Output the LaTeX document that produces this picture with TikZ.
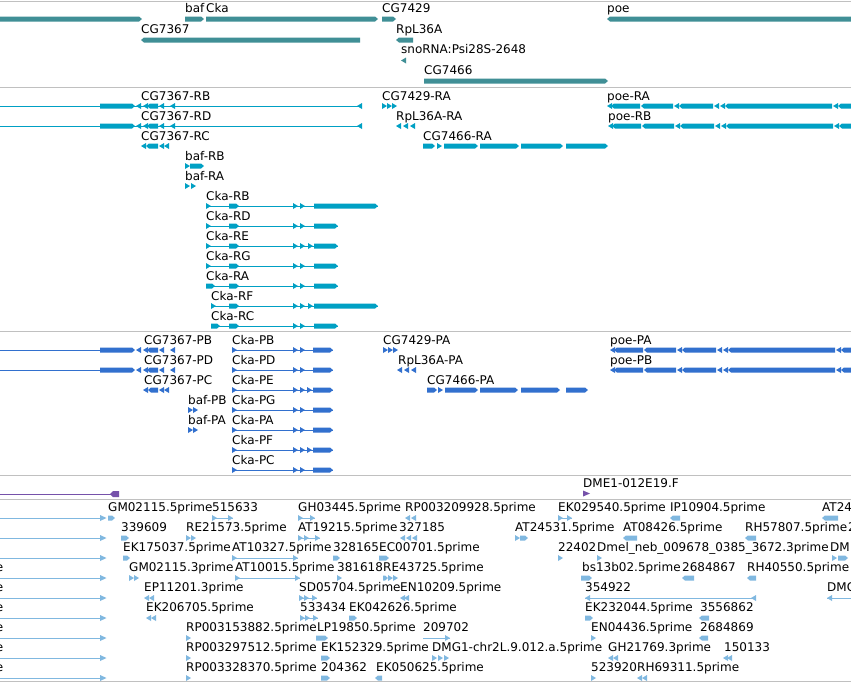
\documentclass[tikz,border=0pt]{standalone}
\usepackage{fontspec}
\setmainfont{DejaVu Sans}
\definecolor{genec}{RGB}{64,143,150}
\definecolor{txc}{RGB}{0,160,196}
\definecolor{prc}{RGB}{50,112,206}
\definecolor{puc}{RGB}{118,82,170}
\definecolor{estc}{RGB}{128,184,224}
\definecolor{sepc}{RGB}{192,192,192}
\newcounter{nodeidx}
\newcommand\xT[3]{\stepcounter{nodeidx}\node[lab] (n\arabic{nodeidx}) at (#1,#2) {#3};}
\newcommand\xRB[3]{\fill (#1,#3-2.5) -- (#2-3,#3-2.5) -- (#2,#3) -- (#2-3,#3+2.5) -- (#1,#3+2.5) -- cycle;}
\newcommand\xLB[3]{\fill (#1,#3) -- (#1+3,#3-2.5) -- (#2,#3-2.5) -- (#2,#3+2.5) -- (#1+3,#3+2.5) -- cycle;}
\newcommand\xRA[2]{\fill (#1,#2-3) -- (#1+5,#2) -- (#1,#2+3) -- cycle;}
\newcommand\xLA[2]{\fill (#1+5,#2-3) -- (#1,#2) -- (#1+5,#2+3) -- cycle;}
\newcommand\xLN[3]{\draw[line width=1pt] (#1,#3) -- (#2,#3);}
\newcommand\xpoe[2]{\xLA{#1}{#2}\xLB{#1+4}{#1+33}{#2}\xLB{#1+34}{#1+66}{#2}\xLA{#1+67}{#2}\xLB{#1+72}{#1+106}{#2}\xLA{#1+107}{#2}\xLA{#1+113}{#2}\xLB{#1+118}{#1+225}{#2}\xLA{#1+226}{#2}\xLB{#1+231}{#1+262}{#2}}
\newcommand\xcgL[2]{\xRB{100}{135}{#2}\xLA{136}{#2}\xLA{143}{#2}\xLB{147}{158}{#2}\xLA{159}{#2}\xLA{170}{#2}}
\tikzset{lab/.style={anchor=base west, inner sep=0pt, font=\fontsize{12}{14}\selectfont, text=black},
  sepline/.style={draw=sepc, line width=1pt}}
\begin{document}
\begin{tikzpicture}[x=1pt,y=-1pt]
\useasboundingbox (0,0) rectangle (851,683);
\fill[white] (0,0) rectangle (851,683);
\clip (0,0) rectangle (851,683);
% separators
\foreach \yy in {1,87.5,331.5,475.5,499.5,681.5} \draw[sepline] (0,\yy) -- (851,\yy);
% ---------- track 1: genes ----------
\begin{scope}[fill=genec,draw=genec]
\xRB{0}{142}{19} \xRB{185}{204}{19} \xRB{206}{378}{19} \xRB{382}{396}{19} \xLB{607}{860}{19}
\xLB{141}{360}{40} \xLB{396}{413}{40}
\xLA{401}{60.5}
\xRB{424}{608}{81}
\end{scope}
\xT{185}{12.5}{baf} \xT{206}{12.5}{Cka} \xT{382}{12.5}{CG7429} \xT{607}{12.5}{poe}
\xT{141}{33.5}{CG7367} \xT{396}{33.5}{RpL36A}
\xT{401}{53.5}{snoRNA:Psi28S-2648}
\xT{424}{74.5}{CG7466}
% ---------- track 2: transcripts ----------
\begin{scope}[fill=txc,draw=txc]
\xLN{0}{362}{106} \xcgL{0}{106} \xLA{357}{106}
\xRA{382}{106}\xRA{387}{106}\xRA{392}{106}
\xpoe{607}{106}
\xLN{0}{362}{126} \xcgL{0}{126} \xLA{357}{126}
\xLA{396}{126}\xLA{403}{126}\xLA{410}{126}
\xpoe{608}{126}
\xLA{141}{146}\xLB{146}{158}{146}\xLA{159}{146}\xLA{164}{146}
\xRB{423}{435}{146}\xRA{437}{146}\xRB{444}{478}{146}\xRB{480}{519}{146}\xRB{521}{563}{146}\xRB{566}{608}{146}
\xRA{185}{166}\xRB{190}{204}{166}
\xRA{185}{186}\xRA{191}{186}
% Cka transcripts
\xLN{206}{378}{206}\xRA{206}{206}\xRB{229}{239}{206}\xRA{293}{206}\xRA{300}{206}\xRB{314}{378}{206}
\xLN{206}{338}{226}\xRA{206}{226}\xRB{229}{239}{226}\xRA{293}{226}\xRA{300}{226}\xRB{314}{338}{226}
\xLN{206}{338}{246}\xRA{206}{246}\xRB{229}{239}{246}\xRA{293}{246}\xRA{300}{246}\xRA{308}{246}\xRB{314}{338}{246}
\xLN{206}{338}{266}\xRA{206}{266}\xRB{229}{239}{266}\xRA{293}{266}\xRA{300}{266}\xRB{314}{338}{266}
\xLN{206}{338}{286}\xRB{206}{215}{286}\xRB{229}{239}{286}\xRA{293}{286}\xRA{300}{286}\xRB{314}{338}{286}
\xLN{211}{378}{306}\xRA{211}{306}\xRB{229}{239}{306}\xRA{293}{306}\xRA{300}{306}\xRA{308}{306}\xRB{314}{378}{306}
\xLN{211}{338}{326}\xRB{211}{220}{326}\xRB{229}{239}{326}\xRA{293}{326}\xRA{300}{326}\xRB{314}{338}{326}
\end{scope}
\xT{141}{100}{CG7367-RB} \xT{382}{100}{CG7429-RA} \xT{607}{100}{poe-RA}
\xT{141}{120}{CG7367-RD} \xT{396}{120}{RpL36A-RA} \xT{608}{120}{poe-RB}
\xT{141}{140}{CG7367-RC} \xT{423}{140}{CG7466-RA}
\xT{185}{160}{baf-RB} \xT{185}{180}{baf-RA}
\xT{206}{200}{Cka-RB} \xT{206}{220}{Cka-RD} \xT{206}{240}{Cka-RE} \xT{206}{260}{Cka-RG}
\xT{206}{280}{Cka-RA} \xT{211}{300}{Cka-RF} \xT{211}{320}{Cka-RC}
% ---------- track 3: proteins ----------
\begin{scope}[fill=prc,draw=prc]
\xLN{0}{100}{350} \xcgL{0}{350}
\xLN{0}{100}{370} \xcgL{0}{370}
\xLA{143}{390}\xLB{148}{158}{390}\xLA{159}{390}\xLA{164}{390}
\xRA{383}{350}\xRA{388}{350}\xRA{393}{350}
\xLA{397}{370}\xLA{404}{370}\xLA{411}{370}
\xpoe{610}{350} \xpoe{610}{370}
\xRB{427}{437}{390}\xRA{438}{390}\xRB{445}{478}{390}\xRB{480}{518}{390}\xRB{521}{560}{390}\xRB{566}{588}{390}
\xRA{188}{410}\xRA{193}{410}
\xRA{188}{430}\xRA{193}{430}
\foreach \yy in {350,370,410,430,470}{\xLN{232}{333}{\yy}\xRA{232}{\yy}\xRA{293}{\yy}\xRA{300}{\yy}\xRB{313}{333}{\yy}}
\foreach \yy in {390,450}{\xLN{232}{333}{\yy}\xRA{232}{\yy}\xRA{293}{\yy}\xRA{300}{\yy}\xRA{307}{\yy}\xRB{313}{333}{\yy}}
\end{scope}
\xT{144}{344}{CG7367-PB} \xT{232}{344}{Cka-PB} \xT{383}{344}{CG7429-PA} \xT{610}{344}{poe-PA}
\xT{144}{364}{CG7367-PD} \xT{232}{364}{Cka-PD} \xT{398}{364}{RpL36A-PA} \xT{610}{364}{poe-PB}
\xT{144}{384}{CG7367-PC} \xT{232}{384}{Cka-PE} \xT{427}{384}{CG7466-PA}
\xT{188}{404}{baf-PB} \xT{232}{404}{Cka-PG}
\xT{188}{424}{baf-PA} \xT{232}{424}{Cka-PA}
\xT{232}{444}{Cka-PF} \xT{232}{464}{Cka-PC}
% ---------- track 4: purple ----------
\begin{scope}[fill=puc,draw=puc]
\xLN{0}{112}{494}
\fill (110,494) -- (113,491) -- (119,491) -- (119,497) -- (113,497) -- cycle;
\fill (583,490.5) -- (590,493.5) -- (583,496.5) -- cycle;
\end{scope}
\xT{583}{487}{DME1-012E19.F}
% ---------- track 5: ESTs ----------
\begin{scope}[fill=estc,draw=estc]
\foreach \yy in {518,538,558,578,598,618,638,658,678}{\xLN{0}{102}{\yy}\fill (100,\yy-3) -- (106.5,\yy) -- (100,\yy+3) -- cycle;}
% row 0
\xRB{108}{115}{518} \xLN{212}{233}{518}\xRA{212}{518}\xRA{228}{518}
\xLN{298}{315}{518}\xRA{298}{518}\xRA{310}{518}
\xLA{405}{518}\xLA{411}{518}
\xLN{558}{572}{518}\xRA{558}{518}\xRA{567}{518}
\xLB{670}{680}{518} \xLB{822}{838}{518}
% row 1
\xRB{121}{129}{538} \xRA{186}{538}\xRA{191}{538}
\xLN{298}{320}{538}\xRA{298}{538}\xRA{304}{538}\xRA{315}{538}
\xLA{400}{538}\xLA{406}{538}\xLA{412}{538}
\xRA{515}{538}\xRB{520}{528}{538}
\xLB{623}{637}{538} \xLB{745}{756}{538}
% row 2
\xRB{123}{130}{558} \xLN{232}{298}{558}\xRA{232}{558}\xRA{293}{558}
\xRB{333}{340}{558} \xRB{379}{389}{558}
\xRA{558}{558} \xRA{597}{558} \xRA{832}{558}\xRB{838}{848}{558}
% row 3
\xRA{129}{578}\xRA{134}{578} \xLN{235}{300}{578}\xRA{235}{578}\xRA{295}{578}
\xRA{337}{578} \xRB{383}{388}{578}\xRA{388}{578}\xRA{393}{578}
\xRB{581}{592}{578} \xLB{682}{694}{578} \xLB{747}{756}{578}
% row 4
\xLA{144}{598}\xLA{149}{598}
\xLN{299}{317}{598}\xRA{299}{598}\xRA{304}{598}\xRA{312}{598}
\xLA{400}{598}\xLA{404}{598}
\xLN{585}{756}{598}\xLA{585}{598}\xLA{751}{598}
\xLN{827}{851}{598}\xLA{827}{598}
% row 5
\xLA{146}{618}\xLA{151}{618}
\xLN{300}{318}{618}\xRA{300}{618}\xRA{305}{618}\xRA{313}{618}
\xRB{349}{357}{618} \xRB{585}{593}{618} \xLB{699}{709}{618}
% row 6
\xRA{186}{638} \xRB{316}{328}{638} \xLN{423}{450}{638}\xRA{445}{638}
\xRA{591}{638} \xLB{699}{708}{638}
% row 7
\xRA{186}{658} \xRB{321}{330}{658} \xRA{432}{658}\xRA{438}{658}\xRA{444}{658}
\xLA{608}{658}\xLA{613}{658} \xLA{723}{658}\xLA{727}{658}
% row 8
\xRA{186}{678} \xRB{321}{330}{678} \xLB{375}{382}{678} \xRA{591}{678} \xLA{637}{678}\xLA{642}{678}
\end{scope}
\xT{108}{511.5}{GM02115.5prime} \xT{212}{511.5}{515633} \xT{298}{511.5}{GH03445.5prime}
\xT{405}{511.5}{RP003209928.5prime} \xT{558}{511.5}{EK029540.5prime} \xT{670}{511.5}{IP10904.5prime} \xT{822}{511.5}{AT24}
\xT{121}{531.5}{339609} \xT{186}{531.5}{RE21573.5prime} \xT{298}{531.5}{AT19215.5prime} \xT{399}{531.5}{327185}
\xT{515}{531.5}{AT24531.5prime} \xT{623}{531.5}{AT08426.5prime} \xT{745}{531.5}{RH57807.5prime} \xT{848}{531.5}{2}
\xT{123}{551.5}{EK175037.5prime} \xT{232}{551.5}{AT10327.5prime} \xT{333}{551.5}{328165} \xT{379}{551.5}{EC00701.5prime}
\xT{558}{551.5}{22402} \xT{597}{551.5}{Dmel\_neb\_009678\_0385\_3672.3prime} \xT{830}{551.5}{DM}
\xT{129}{571.5}{GM02115.3prime} \xT{235}{571.5}{AT10015.5prime} \xT{337}{571.5}{381618} \xT{383}{571.5}{RE43725.5prime}
\xT{582}{571.5}{bs13b02.5prime} \xT{682}{571.5}{2684867} \xT{747}{571.5}{RH40550.5prime}
\xT{144}{591.5}{EP11201.3prime} \xT{299}{591.5}{SD05704.5prime} \xT{400}{591.5}{EN10209.5prime} \xT{585}{591.5}{354922} \xT{827}{591.5}{DMG}
\xT{146}{611.5}{EK206705.5prime} \xT{300}{611.5}{533434} \xT{349}{611.5}{EK042626.5prime} \xT{585}{611.5}{EK232044.5prime} \xT{700}{611.5}{3556862}
\xT{186}{631.5}{RP003153882.5prime} \xT{317}{631.5}{LP19850.5prime} \xT{423}{631.5}{209702} \xT{591}{631.5}{EN04436.5prime} \xT{700}{631.5}{2684869}
\xT{186}{651.5}{RP003297512.5prime} \xT{321}{651.5}{EK152329.5prime} \xT{432}{651.5}{DMG1-chr2L.9.012.a.5prime} \xT{608}{651.5}{GH21769.3prime} \xT{724}{651.5}{150133}
\xT{186}{671.5}{RP003328370.5prime} \xT{321}{671.5}{204362} \xT{376}{671.5}{EK050625.5prime} \xT{591}{671.5}{523920} \xT{637}{671.5}{RH69311.5prime}
\foreach \yy [count=\i] in {571.5,591.5,611.5,631.5,651.5,671.5}{\node[lab,anchor=base east] (e\i) at (3.5,\yy) {e};}
\end{tikzpicture}
\end{document}
